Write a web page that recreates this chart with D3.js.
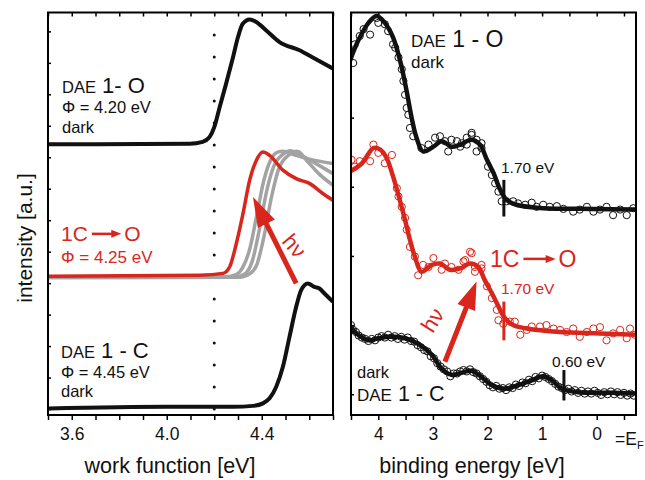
<!DOCTYPE html>
<html>
<head>
<meta charset="utf-8">
<script src="https://cdn.jsdelivr.net/npm/d3@7"></script>
<style>
body { margin: 0; background: #fff; }
text { font-family: "Liberation Sans", sans-serif; }
</style>
</head>
<body>
<div id="chart"></div>
<script>
// work function axis (left), binding energy axis (right)
const wfTicks = [3.6, 4.0, 4.4];
const beTicks = [4, 3, 2, 1, 0];

// left panel: secondary electron cut-off, [work function eV, intensity]
const wfDark1O = [[3.5, 8.41], [4.097, 8.43], [4.151, 8.49], [4.18, 8.64], [4.2, 8.96], [4.223, 9.6], [4.25, 10.34], [4.279, 11.18], [4.3, 11.82], [4.32, 12.24], [4.349, 12.38], [4.377, 12.3], [4.419, 12.03], [4.475, 11.66], [4.559, 11.4], [4.613, 11.18], [4.7, 10.82]];
const wfIrr = [[3.5, 4.22], [4.139, 4.25], [4.237, 4.31], [4.265, 4.52], [4.293, 5.26], [4.321, 6.21], [4.349, 7.27], [4.377, 7.9], [4.405, 8.17], [4.433, 8.06], [4.489, 7.59], [4.545, 7.32], [4.601, 7.17], [4.657, 6.85], [4.7, 6.63]];
const wfGray1 = [[3.5, 4.19], [4.25, 4.2], [4.29, 4.26], [4.32, 4.5], [4.35, 5.1], [4.38, 6.2], [4.41, 7.3], [4.44, 7.95], [4.47, 8.17], [4.49, 8.19], [4.53, 8.09], [4.6, 7.94], [4.7, 7.8]];
const wfGray2 = [[3.5, 4.18], [4.29, 4.19], [4.33, 4.3], [4.36, 4.7], [4.39, 5.7], [4.42, 6.9], [4.45, 7.7], [4.49, 8.1], [4.52, 8.21], [4.57, 8.04], [4.63, 7.79], [4.7, 7.48]];
const wfGray3 = [[3.5, 4.18], [4.31, 4.19], [4.35, 4.3], [4.38, 4.6], [4.41, 5.5], [4.44, 6.7], [4.47, 7.6], [4.51, 8.05], [4.55, 8.19], [4.59, 7.89], [4.64, 7.48], [4.7, 7.11]];
const wfDark1C = [[3.5, 0.02], [4.0, 0.07], [4.279, 0.07], [4.363, 0.1], [4.405, 0.18], [4.433, 0.34], [4.461, 0.71], [4.489, 1.34], [4.517, 2.3], [4.545, 3.25], [4.566, 3.78], [4.594, 3.99], [4.622, 3.88], [4.643, 3.83], [4.664, 3.67], [4.7, 3.41]];

// right panel: valence band spectra, [binding energy eV, intensity]
const beDark1OFit = [[4.52, 4.82], [4.37, 5.11], [4.18, 5.37], [4.03, 5.47], [3.88, 5.37], [3.73, 5.16], [3.6, 4.82], [3.48, 4.38], [3.39, 4.0], [3.3, 3.71], [3.18, 3.51], [2.99, 3.58], [2.84, 3.66], [2.66, 3.58], [2.5, 3.61], [2.29, 3.68], [2.14, 3.61], [2.01, 3.39], [1.89, 3.2], [1.77, 2.96], [1.65, 2.81], [1.47, 2.74], [0.98, 2.69], [0.06, 2.68], [-0.72, 2.67]];
const beDark1OPts = [[4.46, 4.79], [4.43, 5.06], [4.34, 5.18], [4.27, 5.28], [4.15, 5.2], [4.03, 5.44], [4.0, 5.37], [3.88, 5.35], [3.82, 5.25], [3.73, 5.06], [3.69, 5.01], [3.63, 4.87], [3.57, 4.7], [3.54, 4.53], [3.51, 4.33], [3.48, 4.14], [3.45, 4.04], [3.42, 3.85], [3.36, 3.73], [3.21, 3.56], [3.08, 3.61], [2.96, 3.71], [2.87, 3.73], [2.78, 3.66], [2.72, 3.51], [2.66, 3.68], [2.56, 3.66], [2.47, 3.63], [2.38, 3.71], [2.29, 3.78], [2.2, 3.68], [2.11, 3.56], [2.5, 3.58], [2.38, 3.61], [2.29, 3.75], [2.2, 3.51], [2.11, 3.63], [1.99, 3.29], [1.92, 3.17], [1.86, 3.05], [1.8, 2.93], [1.74, 2.79], [1.65, 2.79], [1.53, 2.79], [1.44, 2.76], [1.31, 2.74], [1.19, 2.77], [1.1, 2.71], [0.98, 2.74], [0.86, 2.71], [0.73, 2.72], [0.61, 2.68], [0.43, 2.64], [0.31, 2.67], [0.18, 2.71], [0.06, 2.64], [-0.06, 2.67], [-0.18, 2.71], [-0.3, 2.59], [-0.43, 2.67], [-0.55, 2.59], [-0.67, 2.69]];
const beIrrFit = [[4.52, 3.22], [4.3, 3.34], [4.09, 3.56], [3.97, 3.54], [3.85, 3.42], [3.73, 3.15], [3.6, 2.79], [3.51, 2.52], [3.42, 2.23], [3.33, 1.99], [3.21, 1.77], [3.02, 1.87], [2.87, 1.89], [2.69, 1.8], [2.5, 1.82], [2.32, 1.89], [2.17, 1.84], [2.05, 1.65], [1.92, 1.46], [1.8, 1.27], [1.68, 1.1], [1.53, 1.0], [1.28, 0.95], [0.67, 0.9], [-0.06, 0.88], [-0.73, 0.86]];
const beIrrPts = [[4.49, 3.39], [4.43, 3.29], [4.34, 3.37], [4.15, 3.37], [4.09, 3.61], [4.0, 3.49], [3.88, 3.34], [3.75, 3.46], [3.66, 2.98], [3.63, 2.86], [3.57, 2.71], [3.51, 2.55], [3.48, 2.38], [3.42, 2.13], [3.33, 1.99], [3.27, 1.72], [3.18, 1.87], [3.08, 1.84], [2.99, 1.97], [2.84, 1.8], [2.78, 1.89], [2.66, 1.84], [2.53, 1.8], [2.44, 1.92], [2.32, 2.06], [2.23, 1.84], [2.11, 1.82], [2.41, 1.94], [2.29, 2.04], [2.23, 1.77], [2.11, 1.87], [2.01, 1.56], [1.92, 1.39], [1.83, 1.22], [1.8, 1.07], [1.71, 1.02], [1.59, 1.05], [1.5, 1.05], [1.4, 0.86], [1.28, 0.93], [1.19, 0.98], [1.04, 0.98], [0.92, 1.0], [0.79, 0.95], [0.67, 0.93], [0.55, 0.9], [0.43, 0.95], [0.31, 0.83], [0.18, 0.9], [0.06, 0.95], [-0.06, 0.97], [-0.18, 0.78], [-0.3, 0.88], [-0.43, 0.93], [-0.55, 0.81], [-0.61, 0.95], [-0.7, 0.86]];
const beDark1CFit = [[4.52, 0.98], [4.37, 0.86], [4.18, 0.78], [4.0, 0.81], [3.75, 0.83], [3.51, 0.81], [3.27, 0.73], [3.02, 0.57], [2.84, 0.37], [2.66, 0.28], [2.44, 0.32], [2.29, 0.34], [2.11, 0.25], [1.92, 0.13], [1.68, 0.08], [1.44, 0.13], [1.19, 0.2], [0.98, 0.26], [0.82, 0.2], [0.64, 0.08], [0.34, 0.03], [-0.27, 0.02], [-0.73, 0.01]];
const beDark1CPts = [[4.5, 1.0], [4.46, 0.93], [4.41, 0.9], [4.36, 0.85], [4.3, 0.82], [4.24, 0.8], [4.18, 0.77], [4.12, 0.8], [4.06, 0.78], [4.0, 0.82], [3.94, 0.84], [3.88, 0.82], [3.82, 0.86], [3.76, 0.82], [3.7, 0.84], [3.64, 0.8], [3.58, 0.83], [3.52, 0.79], [3.46, 0.82], [3.4, 0.77], [3.34, 0.76], [3.28, 0.71], [3.22, 0.68], [3.16, 0.64], [3.1, 0.62], [3.04, 0.55], [2.98, 0.52], [2.92, 0.45], [2.86, 0.4], [2.8, 0.36], [2.74, 0.33], [2.68, 0.26], [2.62, 0.3], [2.56, 0.3], [2.5, 0.33], [2.44, 0.35], [2.38, 0.33], [2.32, 0.36], [2.26, 0.32], [2.2, 0.3], [2.14, 0.26], [2.08, 0.22], [2.02, 0.18], [1.96, 0.13], [1.9, 0.1], [1.84, 0.12], [1.78, 0.08], [1.72, 0.09], [1.66, 0.06], [1.6, 0.1], [1.54, 0.09], [1.48, 0.14], [1.42, 0.12], [1.36, 0.17], [1.3, 0.16], [1.24, 0.21], [1.18, 0.19], [1.12, 0.25], [1.06, 0.23], [1.0, 0.27], [0.94, 0.25], [0.88, 0.22], [0.82, 0.19], [0.76, 0.15], [0.7, 0.11], [0.64, 0.09], [0.58, 0.06], [0.52, 0.08], [0.46, 0.04], [0.4, 0.06], [0.34, 0.02], [0.28, 0.05], [0.22, 0.01], [0.16, 0.04], [0.1, 0.01], [0.04, 0.05], [-0.02, 0.02], [-0.08, -0.01], [-0.14, 0.03], [-0.2, 0.0], [-0.26, 0.04], [-0.32, 0.0], [-0.38, 0.03], [-0.44, -0.01], [-0.5, 0.02], [-0.56, -0.02], [-0.62, 0.01], [-0.68, -0.02]];

// onset markers [binding energy, intensity low, intensity high]
const onsetDark1O = [1.70, 2.57, 3.10];
const onsetIrr = [1.70, 0.78, 1.34];
const onsetDark1C = [0.60, -0.09, 0.35];

const RED = "#d8261d", GRAY = "#a3a3a3";
const yTop = 12.5, yBot = 415;

const svg = d3.select("#chart").
append("svg").
attr("width", 645).
attr("height", 480).
style("background-color", "white");

const xL = d3.scaleLinear().domain([3.5, 4.7]).range([48, 333]);
const yL = d3.scaleLinear().domain([-0.19, 12.6]).range([yBot, yTop]);
const xR = d3.scaleLinear().domain([4.5, -0.72]).range([351, 636]);
const yR = d3.scaleLinear().domain([-0.3, 5.52]).range([yBot, yTop]);

const defs = svg.append("defs");
defs.append("clipPath").attr("id", "clipL").append("rect").
attr("x", 48).attr("y", yTop).attr("width", 285).attr("height", yBot - yTop);
defs.append("clipPath").attr("id", "clipR").append("rect").
attr("x", 351).attr("y", yTop).attr("width", 285).attr("height", yBot - yTop);

// ---------- axes ----------
function frame(x0, x1) {
  svg.append("rect").
  attr("x", x0).attr("y", yTop).
  attr("width", x1 - x0).attr("height", yBot - yTop).
  attr("fill", "none").attr("stroke", "#000").attr("stroke-width", 2);
}

function axes(x, y, minor, yTicks, labels, fmt) {
  svg.append("g").
  attr("transform", `translate(0,${yBot})`).
  call(d3.axisBottom(x).tickValues(minor).tickSize(5).tickFormat("").tickSizeOuter(0)).
  call(g => g.select(".domain").remove()).
  call(g => g.selectAll("line").attr("stroke-width", 1.5));
  svg.append("g").
  attr("transform", `translate(0,${yTop})`).
  call(d3.axisBottom(x).tickValues(minor).tickSize(4).tickFormat("").tickSizeOuter(0)).
  call(g => g.select(".domain").remove()).
  call(g => g.selectAll("line").attr("stroke-width", 1.5));
  svg.append("g").
  attr("transform", `translate(${x.range()[0]},0)`).
  call(d3.axisRight(y).tickValues(yTicks).tickSize(3).tickFormat("").tickSizeOuter(0)).
  call(g => g.select(".domain").remove()).
  call(g => g.selectAll("line").attr("stroke-width", 1.5));
  svg.append("g").
  attr("transform", `translate(0,${yBot})`).
  call(d3.axisBottom(x).tickValues(labels).tickSize(0).tickPadding(13).tickFormat(fmt)).
  call(g => g.select(".domain").remove()).
  call(g => g.selectAll("text").attr("font-size", 17.5).attr("font-family", '"Liberation Sans", sans-serif').attr("fill", "#111"));
}

axes(xL, yL, d3.range(3.5, 4.71, 0.1), d3.range(0, 13), wfTicks, d3.format(".1f"));
axes(xR, yR, d3.range(-0.5, 4.51, 0.5), d3.range(0, 6), beTicks, d3.format("d"));

// E_F label
svg.append("text").attr("x", 615).attr("y", 445).attr("font-size", 17.5).attr("fill", "#111").
text("=E").append("tspan").attr("font-size", 11).attr("dy", 4).text("F");

// axis titles
svg.append("text").attr("x", 170).attr("y", 473).attr("text-anchor", "middle").
attr("font-size", 21.5).attr("fill", "#111").text("work function [eV]");
svg.append("text").attr("x", 472).attr("y", 473).attr("text-anchor", "middle").
attr("font-size", 21.5).attr("fill", "#111").text("binding energy [eV]");
svg.append("text").attr("transform", "translate(32,238) rotate(-90)").attr("text-anchor", "middle").
attr("font-size", 21).attr("fill", "#111").text("intensity [a.u.]");

// ---------- left panel ----------
const lineL = d3.line().x(d => xL(d[0])).y(d => yL(d[1])).curve(d3.curveMonotoneX);
const left = svg.append("g").attr("clip-path", "url(#clipL)");

left.append("line").
attr("x1", xL(4.2)).attr("x2", xL(4.2)).
attr("y1", yTop + 22.5).attr("y2", yBot).
attr("stroke", "#111").attr("stroke-width", 3).
attr("stroke-linecap", "round").attr("stroke-dasharray", "0 22");

[wfGray3, wfGray2, wfGray1].forEach(d => {
  left.append("path").datum(d).attr("d", lineL).
  attr("fill", "none").attr("stroke", GRAY).attr("stroke-width", 3.5).attr("stroke-linejoin", "round");
});
left.append("path").datum(wfIrr).attr("d", lineL).
attr("fill", "none").attr("stroke", RED).attr("stroke-width", 3.5).attr("stroke-linejoin", "round");
left.append("path").datum(wfDark1O).attr("d", lineL).
attr("fill", "none").attr("stroke", "#111").attr("stroke-width", 4);
left.append("path").datum(wfDark1C).attr("d", lineL).
attr("fill", "none").attr("stroke", "#111").attr("stroke-width", 4);

// ---------- right panel ----------
const lineR = d3.line().x(d => xR(d[0])).y(d => yR(d[1])).curve(d3.curveCatmullRom.alpha(0.5));
const right = svg.append("g").attr("clip-path", "url(#clipR)");

function spectrum(fit, pts, color) {
  right.append("g").selectAll("circle").data(pts).enter().append("circle").
  attr("cx", d => xR(d[0])).attr("cy", d => yR(d[1])).attr("r", 3.6).
  attr("fill", "none").attr("stroke", color).attr("stroke-width", 1);
  right.append("path").datum(fit).attr("d", lineR).
  attr("fill", "none").attr("stroke", color).attr("stroke-width", 4.5);
}
spectrum(beDark1OFit, beDark1OPts, "#111");
spectrum(beIrrFit, beIrrPts, RED);
spectrum(beDark1CFit, beDark1CPts, "#111");

[[onsetDark1O, "#111"], [onsetIrr, RED], [onsetDark1C, "#111"]].forEach(([o, c]) => {
  svg.append("line").attr("x1", xR(o[0])).attr("x2", xR(o[0])).
  attr("y1", yR(o[1])).attr("y2", yR(o[2])).
  attr("stroke", c).attr("stroke-width", 3);
});

// ---------- annotations ----------
function arrow(x1, y1, x2, y2, color, lw, hl, hw) {
  const a = Math.atan2(y2 - y1, x2 - x1);
  const bx = x2 - hl * Math.cos(a), by = y2 - hl * Math.sin(a);
  const px = Math.sin(a) * hw / 2, py = -Math.cos(a) * hw / 2;
  svg.append("line").attr("x1", x1).attr("y1", y1).attr("x2", bx + Math.cos(a)).attr("y2", by + Math.sin(a)).
  attr("stroke", color).attr("stroke-width", lw);
  svg.append("path").attr("d", `M${x2},${y2}L${bx + px},${by + py}L${bx - px},${by - py}Z`).attr("fill", color);
}

function reaction(x, y, size, color) {
  const t = svg.append("text").attr("x", x).attr("y", y).attr("font-size", size).attr("fill", color).text("1C");
  const w = t.node().getComputedTextLength();
  const ay = y - size * 0.34;
  arrow(x + w + 4, ay, x + w + 4 + size * 1.4, ay, color, 2.5, 10, 8);
  svg.append("text").attr("x", x + w + 7 + size * 1.4).attr("y", y).attr("font-size", size).attr("fill", color).text("O");
}

function label(x, y, parts, color) {
  const t = svg.append("text").attr("x", x).attr("y", y).attr("fill", color || "#111");
  parts.forEach(p => t.append("tspan").attr("font-size", p[1]).text(p[0]));
}

// left texts
label(62, 92.5, [["DAE", 16.5], ["\u00a01- O", 22]]);
label(62, 113, [["\u03a6 = 4.20 eV", 16.5]]);
label(62, 132.5, [["dark", 16.5]]);
reaction(61, 241, 21, RED);
label(61, 263.3, [["\u03a6 = 4.25 eV", 17]], RED);
label(61, 358.3, [["DAE", 16.5], ["\u00a01 - C", 22]]);
label(61, 378.3, [["\u03a6 = 4.45 eV", 16.5]]);
label(61, 397, [["dark", 16.5]]);

arrow(xL(4.545), yL(3.99), xL(4.363), yL(6.74), RED, 5, 30, 19);
svg.append("text").attr("transform", "translate(293,247) rotate(50)").attr("text-anchor", "middle").
attr("dominant-baseline", "middle").attr("font-size", 22).attr("fill", RED).text("h\u03bd");

// right texts
label(411, 46.7, [["DAE", 17], ["\u00a01 - O", 23]]);
label(411, 67.5, [["dark", 17]]);
label(501, 173.3, [["1.70 eV", 15.5]]);
reaction(490, 266.7, 23, RED);
label(501, 294, [["1.70 eV", 15.5]], RED);
label(552, 366.7, [["0.60 eV", 15.5]]);
label(357, 377.5, [["dark", 16.5]]);
label(357, 400.5, [["DAE", 17], ["\u00a01 - C", 21.5]]);

arrow(xR(2.78), yR(0.47), xR(2.20), yR(1.63), RED, 5, 28, 19);
svg.append("text").attr("transform", "translate(434,321) rotate(-58)").attr("text-anchor", "middle").
attr("dominant-baseline", "middle").attr("font-size", 22).attr("fill", RED).text("h\u03bd");

frame(48, 333);
frame(351, 636);
</script>
</body>
</html>
